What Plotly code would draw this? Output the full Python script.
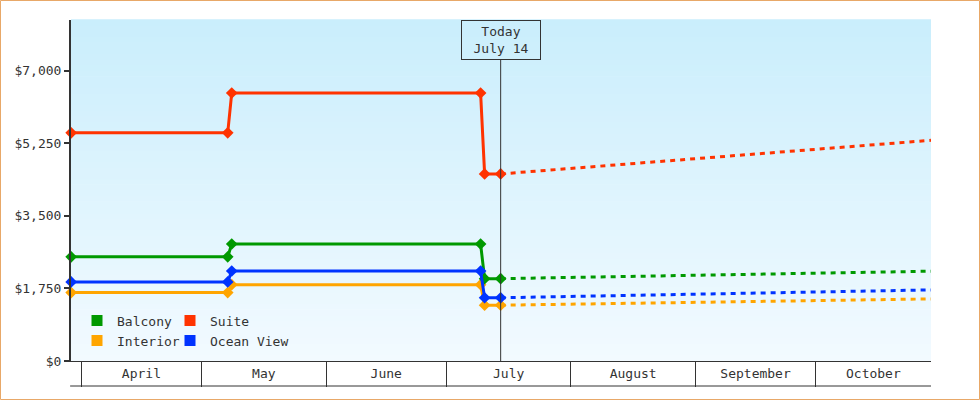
"""Cabin price history and forecast: step chart with a 'today' marker."""

import pandas as pd
import plotly.graph_objects as go

# --- data --------------------------------------------------------------------
PRICE_DATES = [
    "2009-03-29 12:00", "2009-05-07 12:00", "2009-05-08 12:00",
    "2009-07-09 12:00", "2009-07-10 12:00", "2009-07-14 12:00",
]
FORECAST_DATES = [
    "2009-07-14 12:00", "2009-08-01", "2009-09-01", "2009-10-01", "2009-10-29 17:00",
]

BALCONY = [2510, 2510, 2820, 2820, 1985, 1985]
SUITE = [5500, 5500, 6460, 6460, 4510, 4510]
INTERIOR = [1650, 1650, 1840, 1840, 1345, 1345]
OCEAN_VIEW = [1905, 1905, 2170, 2170, 1525, 1525]

BALCONY_FORECAST = [1985, 2015, 2065, 2115, 2165]
SUITE_FORECAST = [4510, 4640, 4875, 5100, 5320]
INTERIOR_FORECAST = [1345, 1368, 1418, 1458, 1497]
OCEAN_VIEW_FORECAST = [1525, 1557, 1610, 1663, 1714]

MONTH_STARTS = ["2009-04-01", "2009-05-01", "2009-06-01", "2009-07-01",
                "2009-08-01", "2009-09-01", "2009-10-01", "2009-11-01"]
MONTH_LABELS = ["April", "May", "June", "July", "August", "September", "October"]

Y_TICKS = [0, 1750, 3500, 5250, 7000]
Y_TICK_LABELS = ["$0", "$1,750", "$3,500", "$5,250", "$7,000"]
TODAY = "2009-07-14 12:00"
TODAY_LABEL = "Today<br>July 14"

X_RANGE = ["2009-03-29 11:00", "2009-10-29 17:00"]
Y_MAX = 8220

FONT = "DejaVu Sans Mono"
INK = "#333333"
COLORS = {
    "Balcony": "#009900",
    "Suite": "#ff3300",
    "Interior": "#ffa500",
    "Ocean View": "#0033ff",
}

series = {
    "Interior": (INTERIOR, INTERIOR_FORECAST),
    "Balcony": (BALCONY, BALCONY_FORECAST),
    "Ocean View": (OCEAN_VIEW, OCEAN_VIEW_FORECAST),
    "Suite": (SUITE, SUITE_FORECAST),
}

fig = go.Figure()

for name, (history, forecast) in series.items():
    color = COLORS[name]
    fig.add_trace(go.Scatter(
        x=FORECAST_DATES, y=forecast, mode="lines", showlegend=False,
        line=dict(color=color, width=3, dash="5px,5px"), hoverinfo="skip",
    ))
    fig.add_trace(go.Scatter(
        x=PRICE_DATES, y=history, mode="lines+markers", showlegend=False,
        line=dict(color=color, width=3),
        marker=dict(symbol="diamond", size=9, color=color),
        cliponaxis=False, name=name,
    ))

# legend swatches, two rows like the original
for name, legend_id in [("Balcony", "legend"), ("Suite", "legend"),
                        ("Interior", "legend2"), ("Ocean View", "legend2")]:
    fig.add_trace(go.Scatter(
        x=[None], y=[None], mode="markers", name=name, legend=legend_id,
        marker=dict(symbol="square", size=11, color=COLORS[name]),
    ))
# blank trailing entries so the last names are not clipped by the legend box
for legend_id in ("legend", "legend2"):
    fig.add_trace(go.Scatter(
        x=[None], y=[None], mode="markers", name=" ", legend=legend_id,
        marker=dict(size=1, color="rgba(0,0,0,0)", line=dict(width=0)),
    ))

# month cells: label centred in the visible part of each month
range_lo, range_hi = pd.Timestamp(X_RANGE[0]), pd.Timestamp(X_RANGE[1])
starts = pd.to_datetime(MONTH_STARTS)
label_pos = []
for lo, hi in zip(starts[:-1], starts[1:]):
    lo, hi = max(lo, range_lo), min(hi, range_hi)
    label_pos.append(lo + (hi - lo) / 2)

# background gradient, light blue at the top fading to near white
top_rgb, bottom_rgb = (202, 238, 252), (242, 250, 255)
bands = 60
shapes = []
for i in range(bands):
    t = i / (bands - 1)
    rgb = tuple(round(b + (a - b) * t) for a, b in zip(top_rgb, bottom_rgb))
    shapes.append(dict(
        type="rect", xref="paper", yref="paper", layer="below",
        x0=0, x1=1, y0=i / bands, y1=(i + 1) / bands + 0.002,
        line=dict(width=0), fillcolor="rgb(%d,%d,%d)" % rgb,
    ))

plot_h = 341
shapes += [
    # today marker line, stops under the label box
    dict(type="line", xref="x", yref="paper", x0=TODAY, x1=TODAY,
         y0=0, y1=1 - 40 / plot_h, line=dict(color=INK, width=1)),
    # bottom edge of the month strip
    dict(type="line", xref="paper", yref="paper", x0=-0.001, x1=1,
         y0=-25 / plot_h, y1=-25 / plot_h, line=dict(color=INK, width=1)),
    # orange frame round the whole picture
    dict(type="rect", xref="paper", yref="paper",
         x0=(0.5 - 71) / 860, x1=(979.5 - 71) / 860,
         y0=(361 - 399.5) / plot_h, y1=(361 - 0.5) / plot_h,
         line=dict(color="#e8a868", width=1)),
]

legend_common = dict(
    orientation="h", xanchor="left", yanchor="middle", bgcolor="rgba(0,0,0,0)",
    font=dict(family=FONT, size=13, color=INK), entrywidth=48,
    entrywidthmode="pixels", itemwidth=30, borderwidth=0,
)

fig.update_layout(
    width=980, height=400,
    margin=dict(l=71, r=49, t=20, b=39),
    paper_bgcolor="white", plot_bgcolor="white",
    font=dict(family=FONT, size=13, color=INK),
    shapes=shapes,
    legend=dict(legend_common, x=(77 - 71) / 860, y=(361 - 320.5) / plot_h),
    legend2=dict(legend_common, x=(77 - 71) / 860, y=(361 - 340.5) / plot_h),
    annotations=[dict(
        text=TODAY_LABEL, x=TODAY, xref="x", y=1, yref="paper",
        xanchor="center", yanchor="top", showarrow=False,
        width=76, height=36, borderpad=1, borderwidth=1, bordercolor=INK,
        font=dict(family=FONT, size=13, color=INK),
    )],
    xaxis=dict(
        type="date", range=X_RANGE, showgrid=False, zeroline=False,
        showline=True, linecolor=INK, linewidth=1,
        tickmode="array", tickvals=label_pos, ticktext=MONTH_LABELS, ticks="",
        ticklabelstandoff=0,
        minor=dict(tickmode="array", tickvals=MONTH_STARTS[:-1], ticks="outside",
                   ticklen=25, tickwidth=1, tickcolor=INK, showgrid=False),
    ),
    yaxis=dict(
        range=[0, Y_MAX], showgrid=False, zeroline=False,
        showline=True, linecolor=INK, linewidth=2,
        tickmode="array", tickvals=Y_TICKS, ticktext=Y_TICK_LABELS,
        ticks="outside", ticklen=5, tickwidth=2, tickcolor=INK,
    ),
)

# the page's default body margin would push the figure off its 980x400 frame
fig.write_html(
    "out.html",
    config={"displayModeBar": False},
    post_script="document.body.style.margin = '0';",
)
